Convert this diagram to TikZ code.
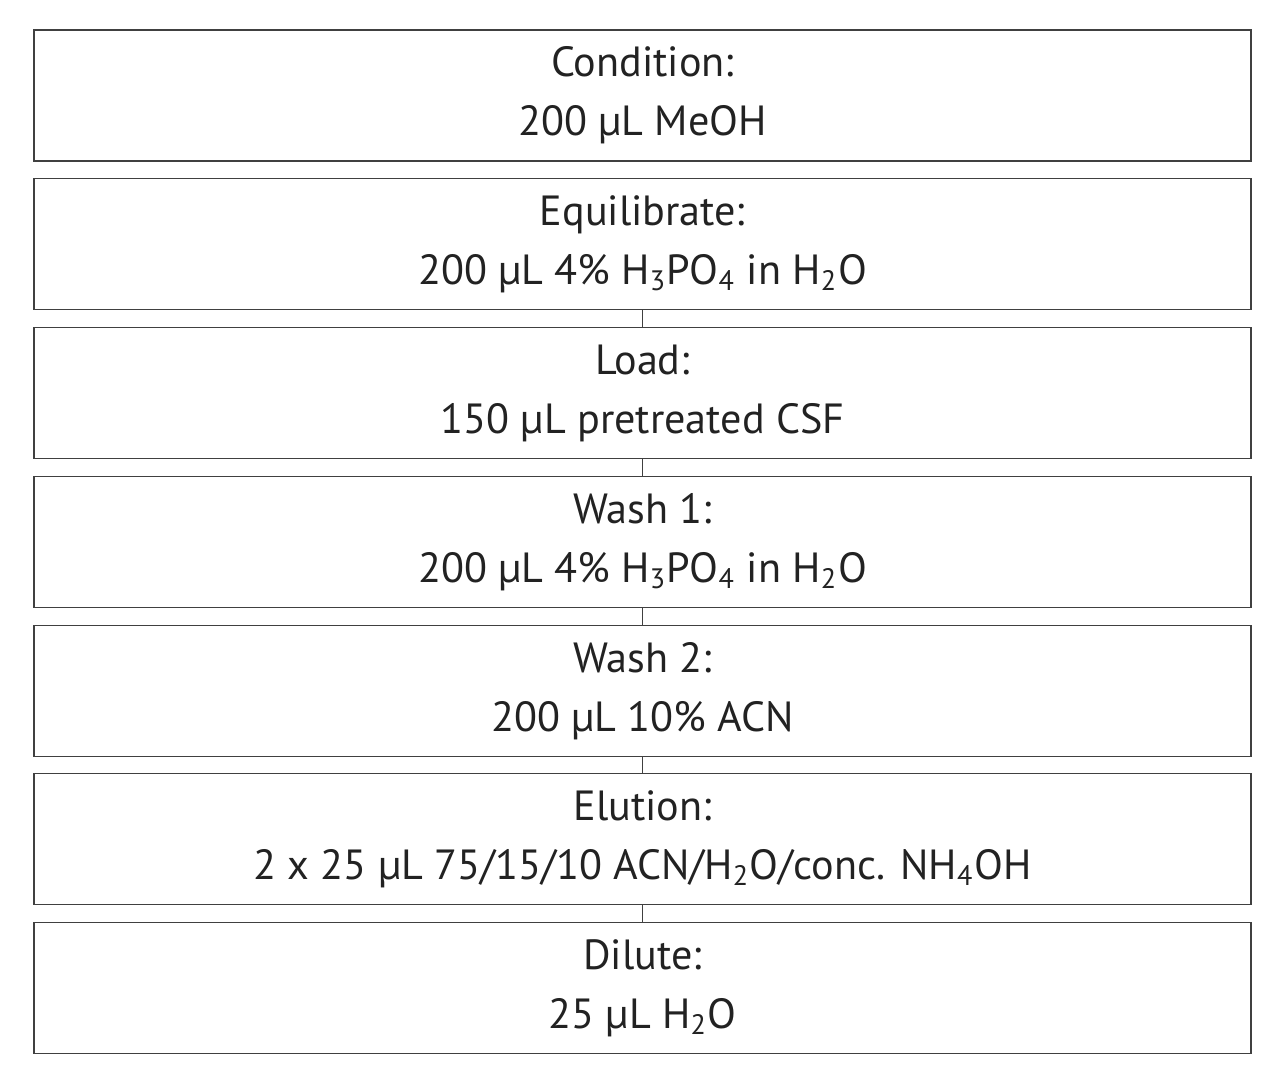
\documentclass[tikz,border=0pt]{standalone}
\usepackage{fontspec}
\setmainfont{PT Sans}
\usepackage{tikz}
\definecolor{boxline}{HTML}{404040}
\definecolor{steptext}{HTML}{222222}
\tikzstyle{stepbox}=[draw=boxline, line width=0.55pt, rectangle, minimum width=121.7mm, minimum height=13.1mm, inner sep=0pt, align=center, text=steptext, font=\fontsize{12}{16.8}\selectfont]

\begin{document}
\begin{tikzpicture}[x=1mm, y=-1mm]
\useasboundingbox (0,0) rectangle (128,108.4);
% Steps
    \node[stepbox] (cond)  at (64.25,9.55)  {Condition:\\200 µL MeOH};
    \node[stepbox] (equil) at (64.25,24.4)  {Equilibrate:\\200 µL 4\% H\textsubscript{3}PO\textsubscript{4} in H\textsubscript{2}O};
    \node[stepbox] (load)  at (64.25,39.3)  {Load:\\150 µL pretreated CSF};
    \node[stepbox] (washa) at (64.25,54.2)  {Wash 1:\\200 µL 4\% H\textsubscript{3}PO\textsubscript{4} in H\textsubscript{2}O};
    \node[stepbox] (washb) at (64.25,69.1)  {Wash 2:\\200 µL 10\% ACN};
    \node[stepbox] (elut)  at (64.25,83.9)  {Elution:\\2 x 25 µL 75/15/10 ACN/H\textsubscript{2}O/conc. NH\textsubscript{4}OH};
    \node[stepbox] (dil)   at (64.25,98.8)  {Dilute:\\25 µL H\textsubscript{2}O};
% Links
    \draw[boxline, line width=0.55pt] (equil.south) -- (load.north);
    \draw[boxline, line width=0.55pt] (load.south) -- (washa.north);
    \draw[boxline, line width=0.55pt] (washa.south) -- (washb.north);
    \draw[boxline, line width=0.55pt] (washb.south) -- (elut.north);
    \draw[boxline, line width=0.55pt] (elut.south) -- (dil.north);
\end{tikzpicture}
\end{document}
